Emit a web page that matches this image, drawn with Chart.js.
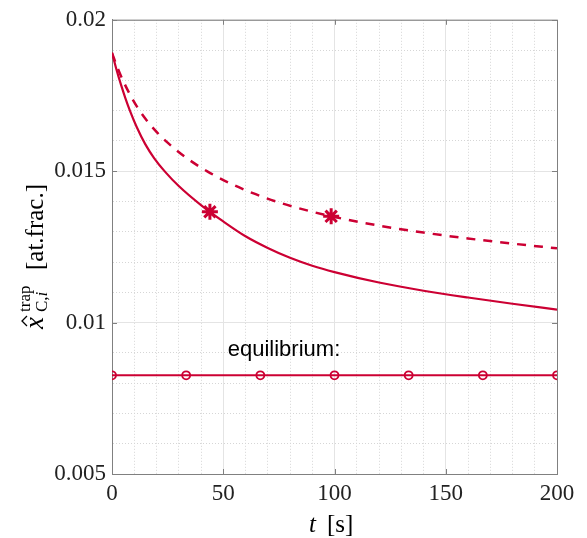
<!DOCTYPE html>
<html>
<head>
<meta charset="utf-8">
<script src="https://cdn.jsdelivr.net/npm/chart.js@4.4.1/dist/chart.umd.min.js"></script>
<style>
	body { margin: 0; background: #fff; }
	#wrap { width: 587px; height: 538px; }
</style>
</head>
<body>
<div id="wrap"><canvas id="chart" width="587" height="538"></canvas></div>
<script>
// solid curve
var solidT = [0, 2, 4, 6, 8, 11, 15, 19, 24, 30, 40, 50, 60, 70, 80, 90, 100, 120, 140, 160, 180, 200];
var solidV = [0.01892, 0.01836, 0.017865, 0.017415, 0.01701, 0.016477, 0.015887, 0.015427, 0.01497, 0.014511, 0.013881, 0.013341, 0.012851, 0.012465, 0.01214, 0.011878, 0.011668, 0.011323, 0.011053, 0.010828, 0.010623, 0.010428];

// dashed curve
var dashT = [0, 2.6, 5, 9, 13, 19, 25, 34, 43, 53, 63, 75, 90, 100, 120, 140, 160, 180, 200];
var dashV = [0.0189, 0.018393, 0.017985, 0.017405, 0.016935, 0.01638, 0.015942, 0.015411, 0.014988, 0.014603, 0.014283, 0.013971, 0.01366, 0.013488, 0.013203, 0.012973, 0.012778, 0.012608, 0.012453];

// star markers
var starT = [44, 98.5];
var starV = [0.01366, 0.01351];

// equilibrium line
var eqT = [0, 33.33, 66.67, 100, 133.33, 166.67, 200];
var eqV = [0.00826, 0.00826, 0.00826, 0.00826, 0.00826, 0.00826, 0.00826];

var xTickLabels = ['0', '50', '100', '150', '200'];
var yTickLabels = ['0.005', '0.01', '0.015', '0.02'];

var red = 'rgb(204,0,51)';
var serif = '"Liberation Serif", "DejaVu Serif", serif';

function pts(t, v){
	var out = [];
	for(var i in t){
		out.push({x: t[i], y: v[i]});
	}
	return out;
}

function isMajorX(v){ return Math.abs(v % 50) < 1e-6; }
function isMajorY(v){ return Math.round(v * 1000) % 5 === 0; }

var decor = {
	id: 'decor',
	afterDraw: function(chart){
		var c = chart.ctx;
		var a = chart.chartArea;
		var xs = chart.scales.x, ys = chart.scales.y;
		c.save();
		// box top/right
		c.strokeStyle = '#808080';
		c.lineWidth = 1;
		c.beginPath();
		c.moveTo(a.left, a.top + 0.5); c.lineTo(a.right + 0.5, a.top + 0.5); c.lineTo(a.right + 0.5, a.bottom);
		c.stroke();
		// inner tick marks
		c.beginPath();
		for(var i = 0; i <= 200; i += 50){
			var px = Math.round(xs.getPixelForValue(i)) + 0.5;
			c.moveTo(px, a.bottom); c.lineTo(px, a.bottom - 5);
			c.moveTo(px, a.top); c.lineTo(px, a.top + 5);
		}
		for(var j = 5; j <= 20; j += 5){
			var py = Math.round(ys.getPixelForValue(j / 1000)) + 0.5;
			c.moveTo(a.left, py); c.lineTo(a.left + 5, py);
			c.moveTo(a.right, py); c.lineTo(a.right - 5, py);
		}
		c.stroke();

		// equilibrium label
		c.fillStyle = '#000';
		c.font = '22px "Liberation Sans", Arial, sans-serif';
		c.textAlign = 'center';
		c.textBaseline = 'alphabetic';
		c.fillText('equilibrium:', xs.getPixelForValue(77.3), ys.getPixelForValue(0.00889));

		// x title: t [s]
		c.textAlign = 'left';
		c.font = 'italic 25px ' + serif;
		c.fillText('t', 309, 532);
		c.font = '25px ' + serif;
		c.fillText('[s]', 327, 532);

		// y title: x-hat ^trap _C,i [at.frac.]
		c.translate(43, 330);
		c.rotate(-Math.PI / 2);
		c.font = 'italic 27px ' + serif;
		c.fillText('x', 1, 0);
		c.strokeStyle = '#000';
		c.lineWidth = 1.3;
		c.beginPath();
		c.moveTo(4, -16); c.lineTo(9, -21); c.lineTo(14, -16);
		c.stroke();
		c.font = '17px ' + serif;
		c.fillText('trap', 18, -13);
		c.fillText('C,', 18, 4);
		var w = c.measureText('C,').width;
		c.font = 'italic 17px ' + serif;
		c.fillText('i', 18 + w, 4);
		c.font = '25px ' + serif;
		c.fillText('[at.frac.]', 60, 0);
		c.restore();
	}
};

var ctx = document.getElementById('chart').getContext('2d');
var chart = new Chart(ctx, {
	type: 'scatter',
	data: {
		datasets: [
			{
				data: pts(eqT, eqV),
				showLine: true,
				borderColor: red,
				borderWidth: 2,
				pointStyle: 'circle',
				pointRadius: 4,
				pointBorderWidth: 1.8,
				pointBorderColor: red,
				pointBackgroundColor: 'rgba(0,0,0,0)'
			},
			{
				data: pts(solidT, solidV),
				showLine: true,
				borderColor: red,
				borderWidth: 2.2,
				pointRadius: 0,
				cubicInterpolationMode: 'monotone'
			},
			{
				data: pts(dashT, dashV),
				showLine: true,
				borderColor: red,
				borderWidth: 2.5,
				borderDash: [9, 8],
				pointRadius: 0,
				cubicInterpolationMode: 'monotone'
			},
			{
				data: pts(starT, starV),
				showLine: false,
				pointStyle: 'star',
				pointRadius: 8,
				pointBorderWidth: 3,
				pointBorderColor: red,
				pointBackgroundColor: red
			}
		]
	},
	options: {
		responsive: false,
		animation: false,
		layout: { padding: { left: 0, right: 30, top: 19, bottom: 0 } },
		plugins: {
			legend: { display: false },
			tooltip: { enabled: false }
		},
		scales: {
			x: {
				type: 'linear',
				min: 0,
				max: 200,
				afterFit: function(s){ s.height = 64; },
				ticks: {
					stepSize: 10,
					autoSkip: false,
					maxRotation: 0,
					padding: 6,
					color: '#222',
					font: { family: serif, size: 23 },
					callback: function(v){ return isMajorX(v) ? xTickLabels[Math.round(v / 50)] : ''; }
				},
				grid: {
					drawTicks: false,
					lineWidth: 1,
					color: function(c){ return c.tick && isMajorX(c.tick.value) ? '#e4e4e4' : '#d6d6d6'; }
				},
				border: {
					color: '#808080',
					dash: function(c){ return c.tick && !isMajorX(c.tick.value) ? [1, 2] : []; }
				}
			},
			y: {
				type: 'linear',
				min: 0.005,
				max: 0.02,
				afterFit: function(s){ s.width = 112; },
				ticks: {
					stepSize: 0.001,
					autoSkip: false,
					padding: 6,
					color: '#222',
					font: { family: serif, size: 23 },
					callback: function(v){ return isMajorY(v) ? yTickLabels[Math.round(v * 1000) / 5 - 1] : ''; }
				},
				grid: {
					drawTicks: false,
					lineWidth: 1,
					color: function(c){ return c.tick && isMajorY(c.tick.value) ? '#e4e4e4' : '#d6d6d6'; }
				},
				border: {
					color: '#808080',
					dash: function(c){ return c.tick && !isMajorY(c.tick.value) ? [1, 2] : []; }
				}
			}
		}
	},
	plugins: [decor]
});
</script>
</body>
</html>
